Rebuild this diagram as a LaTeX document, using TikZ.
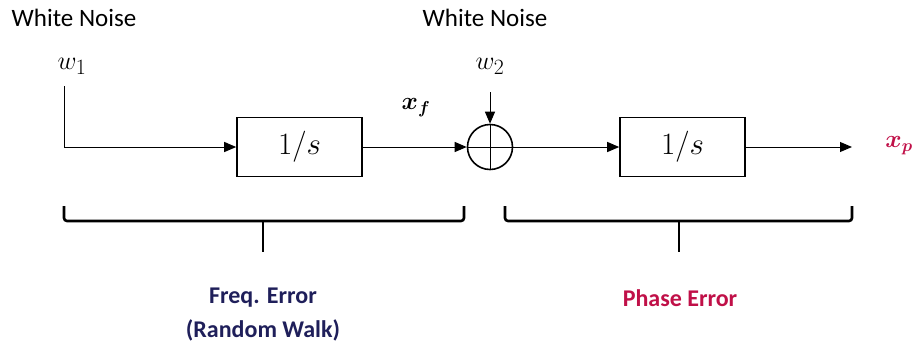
\documentclass[tikz,border=0pt]{standalone}
\usepackage{amsmath,bm}
\usepackage{graphicx}
\usepackage{fontspec}
\setmainfont{Carlito}
\usetikzlibrary{arrows.meta}
\definecolor{navy}{RGB}{31,31,90}
\definecolor{crimson}{RGB}{192,16,72}
\begin{document}
\begin{tikzpicture}[x=1pt,y=-1pt,
  lbl/.style={font=\fontsize{25}{28}\selectfont},
  mth/.style={font=\fontsize{27}{30}\selectfont},
  wlbl/.style={font=\fontsize{24.88}{28}\selectfont,scale=1.05},
  blk/.style={draw,line width=1.6pt,minimum width=125pt,minimum height=59pt,inner sep=0pt,font=\fontsize{24.88}{30}\selectfont},
  conn/.style={line width=1pt,-{Triangle[length=12pt,width=10pt]}},
  brace/.style={line width=2.6pt,rounded corners=3pt},
  captext/.style={font=\bfseries\fontsize{24}{28}\selectfont}]
\useasboundingbox (0,0) rectangle (914,349);
\node[lbl] (wn1) at (74,18) {White Noise};
\node[lbl] (wn2) at (485,18) {White Noise};
\node[wlbl] (w1) at (72,66) {$w_1$};
\node[wlbl] (w2) at (490,66) {$w_2$};
\coordinate (w1s) at (64,86);
\coordinate (w1c) at (64,147);
\coordinate (w2s) at (490,92);
\node[blk] (b1) at (299.5,147) {\scalebox{1.25}{$1/s$}};
\node[blk] (b2) at (682.5,147) {\scalebox{1.25}{$1/s$}};
\node[draw,circle,line width=1.6pt,minimum size=45pt,inner sep=0pt] (sum) at (490,147) {};
\draw[line width=1pt] (sum.north) -- (sum.south) (sum.west) -- (sum.east);
\node[mth] (xf) at (416,108) {$\bm{x_f}$};
\node[mth,text=crimson] (xp) at (899,146) {$\bm{x_p}$};
\coordinate (out) at (852,147);
\draw[line width=1pt] (w1s) -- (w1c);
\draw[conn] (w1c) -- (b1.west);
\draw[conn] (b1.east) -- (sum.west);
\draw[conn] (w2s) -- (sum.north);
\draw[conn] (sum.east) -- (b2.west);
\draw[conn] (b2.east) -- (out);
% braces
\coordinate (l1) at (64,206); \coordinate (r1) at (464,206); \coordinate (t1) at (263,252);
\coordinate (l2) at (505,206); \coordinate (r2) at (852,206); \coordinate (t2) at (679,252);
\draw[brace] (l1) |- (263,221) -| (r1);
\draw[brace] (263,221) -- (t1);
\draw[brace] (l2) |- (679,221) -| (r2);
\draw[brace] (679,221) -- (t2);
\node[captext,text=navy] (fe) at (263,298) {Freq. Error};
\node[captext,text=navy] (rw) at (263,330) {(Random Walk)};
\node[captext,text=crimson] (pe) at (680,298) {Phase Error};
\end{tikzpicture}
\end{document}
